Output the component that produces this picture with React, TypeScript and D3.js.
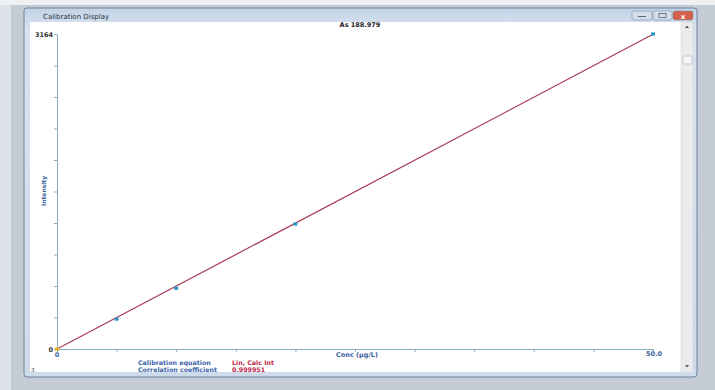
import React, { useEffect, useRef } from "react";
import * as d3 from "d3";

// Calibration standards: concentration (µg/L) and measured intensity
const concentrations = [0, 5, 10, 20, 50];
const intensities = [0, 300, 610, 1255, 3164];

const xDomain = [0, 50];
const yDomain = [0, 3164];
const xTickLabels = ["0", "50.0"];
const yTickLabels = ["0", "3164"];

const chartTitle = "As 188.979";
const windowTitle = "Calibration Display";
const xLabel = "Conc (µg/L)";
const yLabel = "Intensity";
const equationLabel = "Calibration equation";
const equationValue = "Lin, Calc Int";
const corrLabel = "Correlation coefficient";
const corrValue = "0.999951";

const W = 715;
const H = 390;
const FONT = "'DejaVu Sans', Tahoma, sans-serif";

export default function App() {
  const ref = useRef<SVGSVGElement | null>(null);

  useEffect(() => {
    const svg = d3.select(ref.current);
    svg.selectAll("*").remove();

    // desktop / backdrop
    svg.append("rect").attr("width", W).attr("height", H).attr("fill", "#c3cbd5");
    svg.append("rect").attr("width", 11).attr("height", H).attr("fill", "#dde2e8");
    svg.append("rect").attr("width", W).attr("height", 5).attr("fill", "#eef0f3");

    // window frame
    const defs = svg.append("defs");
    const g1 = defs.append("linearGradient").attr("id", "frame").attr("x1", 0).attr("y1", 0).attr("x2", 0).attr("y2", 1);
    g1.append("stop").attr("offset", "0%").attr("stop-color", "#c3d3e6");
    g1.append("stop").attr("offset", "6%").attr("stop-color", "#d7e3f0");
    g1.append("stop").attr("offset", "100%").attr("stop-color", "#cddbeb");
    svg.append("rect").attr("x", 24).attr("y", 8).attr("width", 673).attr("height", 369)
      .attr("rx", 3).attr("fill", "url(#frame)").attr("stroke", "#6f8398").attr("stroke-width", 1);
    svg.append("text").attr("x", 43).attr("y", 18.5).attr("font-family", FONT).attr("font-size", 7)
      .attr("fill", "#2a3440").text(windowTitle);

    // caption buttons
    const btns = [
      { x: 632, w: 20, fill: "#d3deea" },
      { x: 653, w: 19, fill: "#d3deea" },
      { x: 673, w: 20, fill: "#d6604a" },
    ];
    btns.forEach((b) => {
      svg.append("rect").attr("x", b.x).attr("y", 11).attr("width", b.w).attr("height", 9).attr("rx", 2)
        .attr("fill", b.fill).attr("stroke", "#7c8fa6").attr("stroke-width", 0.6);
    });
    svg.append("line").attr("x1", 638).attr("x2", 646).attr("y1", 16.5).attr("y2", 16.5).attr("stroke", "#55677b");
    svg.append("rect").attr("x", 659).attr("y", 13.5).attr("width", 7).attr("height", 4).attr("fill", "none").attr("stroke", "#55677b").attr("stroke-width", 0.8);
    svg.append("text").attr("x", 683).attr("y", 18.5).attr("text-anchor", "middle").attr("font-family", FONT)
      .attr("font-size", 7).attr("font-weight", "bold").attr("fill", "#fff").text("x");

    // client area
    svg.append("rect").attr("x", 30).attr("y", 22).attr("width", 651).attr("height", 350).attr("fill", "#ffffff");
    // scrollbar
    svg.append("rect").attr("x", 681).attr("y", 22).attr("width", 12).attr("height", 350).attr("fill", "#eaebec").attr("stroke", "#d0d4d8").attr("stroke-width", 0.5);
    svg.append("rect").attr("x", 683).attr("y", 56).attr("width", 9).attr("height", 8).attr("rx", 1).attr("fill", "#f6f6f6").attr("stroke", "#a9b0b8").attr("stroke-width", 0.6);
    svg.append("path").attr("d", "M685,28 L687,25.5 L689,28 Z").attr("fill", "#555");
    svg.append("path").attr("d", "M685,365 L687,367.5 L689,365 Z").attr("fill", "#555");

    // plot
    const x = d3.scaleLinear().domain(xDomain).range([57, 653]);
    const y = d3.scaleLinear().domain(yDomain).range([349, 34]);
    const axisColor = "#86aebf";

    const yAxis = d3.axisLeft(y)
      .tickValues(d3.range(0, 11).map((i) => (yDomain[1] * i) / 10))
      .tickSize(3)
      .tickFormat(() => "");
    const ya = svg.append("g").attr("transform", "translate(57,0)").call(yAxis as any);
    ya.select(".domain").attr("stroke", axisColor);
    ya.selectAll(".tick line").attr("stroke", axisColor);

    const xAxis = d3.axisBottom(x)
      .tickValues(d3.range(0, 11).map((i) => (xDomain[1] * i) / 10))
      .tickSize(3)
      .tickFormat(() => "");
    const xa = svg.append("g").attr("transform", "translate(0,349)").call(xAxis as any);
    xa.select(".domain").attr("stroke", axisColor);
    xa.selectAll(".tick line").attr("stroke", axisColor);

    // y labels at min and max
    svg.append("text").attr("x", 53).attr("y", y(yDomain[1]) + 2.5).attr("text-anchor", "end")
      .attr("font-family", FONT).attr("font-size", 6.5).attr("font-weight", "bold").attr("fill", "#333").text(yTickLabels[1]);
    svg.append("text").attr("x", 53).attr("y", y(0) + 2.5).attr("text-anchor", "end")
      .attr("font-family", FONT).attr("font-size", 6.5).attr("font-weight", "bold").attr("fill", "#333").text(yTickLabels[0]);
    // x labels at min and max
    svg.append("text").attr("x", x(0)).attr("y", 357).attr("text-anchor", "middle")
      .attr("font-family", FONT).attr("font-size", 6.5).attr("font-weight", "bold").attr("fill", "#3a62a0").text(xTickLabels[0]);
    svg.append("text").attr("x", x(xDomain[1]) + 1).attr("y", 356).attr("text-anchor", "middle")
      .attr("font-family", FONT).attr("font-size", 6.5).attr("font-weight", "bold").attr("fill", "#3a62a0").text(xTickLabels[1]);

    // axis titles
    svg.append("text").attr("x", 357).attr("y", 357).attr("text-anchor", "middle")
      .attr("font-family", FONT).attr("font-size", 6.5).attr("font-weight", "bold").attr("fill", "#3a62a0").text(xLabel);
    svg.append("text").attr("transform", "translate(46,191) rotate(-90)").attr("text-anchor", "middle")
      .attr("font-family", FONT).attr("font-size", 6).attr("font-weight", "bold").attr("fill", "#3a62a0").text(yLabel);

    // chart title
    svg.append("text").attr("x", 360).attr("y", 27).attr("text-anchor", "middle")
      .attr("font-family", FONT).attr("font-size", 6.5).attr("font-weight", "bold").attr("fill", "#222").text(chartTitle);

    // least squares calibration line
    const mx = d3.mean(concentrations) as number;
    const my = d3.mean(intensities) as number;
    let sxy = 0, sxx = 0;
    concentrations.forEach((c, i) => {
      sxy += (c - mx) * (intensities[i] - my);
      sxx += (c - mx) * (c - mx);
    });
    const slope = sxy / sxx;
    const intercept = my - slope * mx;
    const fit = xDomain.map((c) => [c, Math.max(0, intercept + slope * c)] as [number, number]);
    const line = d3.line<[number, number]>().x((d) => x(d[0])).y((d) => y(d[1]));
    svg.append("path").attr("d", line(fit) as string).attr("fill", "none")
      .attr("stroke", "#a83a55").attr("stroke-width", 1.2);

    // standards
    concentrations.forEach((c, i) => {
      const first = i === 0;
      svg.append("rect")
        .attr("x", x(c) - 2).attr("y", y(intensities[i]) - 1.6)
        .attr("width", 4).attr("height", 3.2)
        .attr("fill", first ? "#e8b020" : "#2a9bc8");
    });

    // footer statistics
    const fy1 = 365, fy2 = 372;
    svg.append("text").attr("x", 138).attr("y", fy1).attr("font-family", FONT).attr("font-size", 6.3)
      .attr("font-weight", "bold").attr("fill", "#3a62a8").text(equationLabel);
    svg.append("text").attr("x", 138).attr("y", fy2).attr("font-family", FONT).attr("font-size", 6.3)
      .attr("font-weight", "bold").attr("fill", "#3a62a8").text(corrLabel);
    svg.append("text").attr("x", 232).attr("y", fy1).attr("font-family", FONT).attr("font-size", 6.3)
      .attr("font-weight", "bold").attr("fill", "#c02a4a").text(equationValue);
    svg.append("text").attr("x", 232).attr("y", fy2).attr("font-family", FONT).attr("font-size", 6.3)
      .attr("font-weight", "bold").attr("fill", "#c02a4a").text(corrValue);
    svg.append("text").attr("x", 31).attr("y", 372).attr("font-family", FONT).attr("font-size", 5.5)
      .attr("fill", "#444").text("3");
  }, []);

  return (
    <svg
      ref={ref}
      width={W}
      height={H}
      style={{ position: "absolute", left: 0, top: 0, display: "block" }}
    />
  );
}
